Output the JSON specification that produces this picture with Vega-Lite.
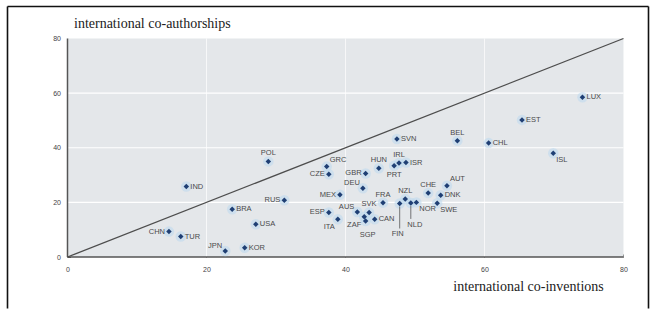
{
  "$schema": "https://vega.github.io/schema/vega-lite/v6.json",
  "width": 641,
  "height": 302,
  "autosize": {"type": "none"},
  "padding": {"left": 7, "top": 6, "right": 4, "bottom": 1},
  "background": "white",
  "config": {
    "view": {"stroke": null},
    "text": {"font": "Liberation Sans", "fontSize": 7.5, "color": "#4a4a4a"}
  },
  "datasets": {
    "pts": [
      {"c": "LUX", "x": 74.1, "y": 58.5},
      {"c": "EST", "x": 65.4, "y": 50.2},
      {"c": "BEL", "x": 56.1, "y": 42.6},
      {"c": "CHL", "x": 60.6, "y": 41.7},
      {"c": "ISL", "x": 69.9, "y": 38.0},
      {"c": "SVN", "x": 47.4, "y": 43.2},
      {"c": "POL", "x": 28.9, "y": 35.0},
      {"c": "GRC", "x": 37.3, "y": 33.1},
      {"c": "CZE", "x": 37.6, "y": 30.3},
      {"c": "HUN", "x": 44.8, "y": 32.5},
      {"c": "GBR", "x": 42.9, "y": 30.6},
      {"c": "DEU", "x": 42.5, "y": 25.2},
      {"c": "MEX", "x": 39.2, "y": 22.8},
      {"c": "RUS", "x": 31.2, "y": 20.8},
      {"c": "FRA", "x": 45.4, "y": 19.9},
      {"c": "IRL", "x": 47.7, "y": 34.4},
      {"c": "ISR", "x": 48.7, "y": 34.6},
      {"c": "PRT", "x": 47.0, "y": 33.4},
      {"c": "NZL", "x": 48.6, "y": 21.2},
      {"c": "FIN", "x": 47.8, "y": 19.6},
      {"c": "NLD", "x": 49.4, "y": 19.8},
      {"c": "NOR", "x": 50.2, "y": 20.0},
      {"c": "CHE", "x": 51.9, "y": 23.4},
      {"c": "AUT", "x": 54.6, "y": 26.1},
      {"c": "DNK", "x": 53.7, "y": 22.6},
      {"c": "SWE", "x": 53.2, "y": 19.7},
      {"c": "ESP", "x": 37.6, "y": 16.3},
      {"c": "ITA", "x": 38.9, "y": 13.8},
      {"c": "AUS", "x": 41.7, "y": 16.5},
      {"c": "SVK", "x": 43.4, "y": 16.3},
      {"c": "ZAF", "x": 42.7, "y": 14.7},
      {"c": "SGP", "x": 42.9, "y": 13.2},
      {"c": "CAN", "x": 44.2, "y": 13.8},
      {"c": "USA", "x": 27.1, "y": 12.0},
      {"c": "BRA", "x": 23.7, "y": 17.5},
      {"c": "KOR", "x": 25.5, "y": 3.4},
      {"c": "JPN", "x": 22.7, "y": 2.2},
      {"c": "CHN", "x": 14.6, "y": 9.3},
      {"c": "TUR", "x": 16.3, "y": 7.5},
      {"c": "IND", "x": 17.1, "y": 25.8}
    ],
    "grid": [{"g": 20}, {"g": 40}, {"g": 60}]
  },
  "resolve": {"axis": {"x": "independent", "y": "independent"}},
  "layer": [
    {
      "data": {"values": [{}]},
      "mark": {"type": "rect", "color": "#e4e7ea"},
      "encoding": {
        "x": {
          "datum": 0, "type": "quantitative",
          "scale": {"domain": [-8.705, 83.53], "nice": false, "zero": false},
          "axis": {
            "orient": "bottom", "offset": -51, "values": [0, 20, 40, 60, 80],
            "domain": false, "grid": false, "ticks": true, "tickSize": -3, "tickColor": "#555555",
            "labelFont": "Liberation Sans", "labelFontSize": 7, "labelColor": "#444444", "labelPadding": 11,
            "title": "international co-inventions", "titleFont": "Liberation Serif", "titleFontSize": 14,
            "titleFontWeight": "normal", "titleColor": "#222222", "titleX": 521, "titleY": 33,
            "titleAlign": "center", "titleBaseline": "alphabetic"
          }
        },
        "x2": {"datum": 80},
        "y": {
          "datum": 0, "type": "quantitative",
          "scale": {"domain": [-18.67, 91.9], "nice": false, "zero": false},
          "axis": {
            "orient": "left", "offset": -60.5, "values": [0, 20, 40, 60, 80],
            "domain": false, "grid": false, "ticks": true, "tickSize": -3, "tickColor": "#555555",
            "labelFont": "Liberation Sans", "labelFontSize": 7, "labelColor": "#444444", "labelPadding": 10,
            "title": "international co-authorships", "titleFont": "Liberation Serif", "titleFontSize": 14,
            "titleFontWeight": "normal", "titleColor": "#222222", "titleAngle": 0, "titleX": 6, "titleY": 21,
            "titleAlign": "left", "titleBaseline": "alphabetic"
          }
        },
        "y2": {"datum": 80}
      }
    },
    {
      "data": {"name": "grid"},
      "mark": {"type": "rule", "color": "#ffffff", "strokeWidth": 1.2},
      "encoding": {
        "y": {"field": "g", "type": "quantitative", "axis": null},
        "x": {"datum": 0, "type": "quantitative", "axis": null},
        "x2": {"datum": 80}
      }
    },
    {
      "data": {"name": "grid"},
      "mark": {"type": "rule", "color": "#ffffff", "strokeWidth": 1, "opacity": 0.7},
      "encoding": {
        "x": {"field": "g", "type": "quantitative", "axis": null},
        "y": {"datum": 0, "type": "quantitative", "axis": null},
        "y2": {"datum": 80}
      }
    },
    {
      "data": {"values": [{}]},
      "mark": {"type": "rule", "color": "#555555", "strokeWidth": 1.5},
      "encoding": {
        "y": {"datum": 0, "type": "quantitative", "axis": null},
        "x": {"datum": 0, "type": "quantitative", "axis": null},
        "x2": {"datum": 80}
      }
    },
    {
      "data": {"values": [{}]},
      "mark": {"type": "rule", "color": "#555555", "strokeWidth": 1.5},
      "encoding": {
        "x": {"datum": 0, "type": "quantitative", "axis": null},
        "y": {"datum": 0, "type": "quantitative", "axis": null},
        "y2": {"datum": 80}
      }
    },
    {
      "data": {"values": [{}]},
      "mark": {"type": "rule", "color": "#4d4d4d", "strokeWidth": 1.3},
      "encoding": {
        "x": {
          "datum": 0, "type": "quantitative",
          "axis": {"orient": "top", "domain": true, "domainColor": "#111111", "domainWidth": 1.6, "ticks": false, "labels": false, "grid": false, "title": null}
        },
        "y": {
          "datum": 0, "type": "quantitative",
          "axis": {"orient": "left", "offset": 0, "domain": true, "domainColor": "#111111", "domainWidth": 1.6, "ticks": false, "labels": false, "grid": false, "title": null}
        },
        "x2": {"datum": 80},
        "y2": {"datum": 80}
      }
    },
    {
      "data": {"name": "pts"},
      "mark": {"type": "point", "shape": "circle", "filled": true, "size": 110, "color": "#bcd8ef", "opacity": 0.55},
      "encoding": {
        "x": {"field": "x", "type": "quantitative", "axis": null},
        "y": {"field": "y", "type": "quantitative", "axis": null}
      }
    },
    {
      "data": {"name": "pts"},
      "transform": [{"filter": {"field": "c", "equal": "FIN"}}],
      "mark": {"type": "rule", "color": "#555555", "strokeWidth": 0.8, "yOffset": 3, "y2Offset": 25},
      "encoding": {
        "x": {"field": "x", "type": "quantitative", "axis": null},
        "y": {"field": "y", "type": "quantitative", "axis": null},
        "y2": {"field": "y"}
      }
    },
    {
      "data": {"name": "pts"},
      "transform": [{"filter": {"field": "c", "equal": "NLD"}}],
      "mark": {"type": "rule", "color": "#555555", "strokeWidth": 0.8, "yOffset": 3, "y2Offset": 16},
      "encoding": {
        "x": {"field": "x", "type": "quantitative", "axis": null},
        "y": {"field": "y", "type": "quantitative", "axis": null},
        "y2": {"field": "y"}
      }
    },
    {
      "data": {"name": "pts"},
      "mark": {"type": "point", "shape": "diamond", "filled": true, "size": 30, "color": "#1f3f74", "opacity": 1},
      "encoding": {
        "x": {"field": "x", "type": "quantitative", "axis": null},
        "y": {
          "field": "y", "type": "quantitative",
          "axis": {"orient": "right", "domain": true, "domainColor": "#111111", "domainWidth": 1.6, "ticks": false, "labels": false, "grid": false, "title": null}
        }
      }
    },
    {
      "data": {"name": "pts"},
      "transform": [{"filter": {"field": "c", "oneOf": ["LUX", "EST", "CHL", "SVN", "ISR", "DNK", "CAN", "USA", "BRA", "KOR", "TUR", "IND"]}}],
      "mark": {"type": "text", "align": "left", "baseline": "middle", "dx": 4},
      "encoding": {
        "x": {"field": "x", "type": "quantitative", "axis": null},
        "y": {"field": "y", "type": "quantitative", "axis": null},
        "text": {"field": "c"}
      }
    },
    {
      "data": {"name": "pts"},
      "transform": [{"filter": {"field": "c", "oneOf": ["CZE", "GBR", "MEX", "RUS", "ESP", "CHN"]}}],
      "mark": {"type": "text", "align": "right", "baseline": "middle", "dx": -4},
      "encoding": {
        "x": {"field": "x", "type": "quantitative", "axis": null},
        "y": {"field": "y", "type": "quantitative", "axis": null},
        "text": {"field": "c"}
      }
    },
    {
      "data": {"name": "pts"},
      "transform": [{"filter": {"field": "c", "oneOf": ["BEL", "POL", "HUN", "FRA", "IRL", "NZL", "CHE", "SVK"]}}],
      "mark": {"type": "text", "align": "center", "baseline": "middle", "dy": -8},
      "encoding": {
        "x": {"field": "x", "type": "quantitative", "axis": null},
        "y": {"field": "y", "type": "quantitative", "axis": null},
        "text": {"field": "c"}
      }
    },
    {
      "data": {"name": "pts"},
      "transform": [{"filter": {"field": "c", "equal": "PRT"}}],
      "mark": {"type": "text", "align": "center", "baseline": "middle", "dy": 9},
      "encoding": {
        "x": {"field": "x", "type": "quantitative", "axis": null},
        "y": {"field": "y", "type": "quantitative", "axis": null},
        "text": {"field": "c"}
      }
    },
    {
      "data": {"name": "pts"},
      "transform": [{"filter": {"field": "c", "equal": "SGP"}}],
      "mark": {"type": "text", "align": "center", "baseline": "middle", "dx": 2, "dy": 14},
      "encoding": {
        "x": {"field": "x", "type": "quantitative", "axis": null},
        "y": {"field": "y", "type": "quantitative", "axis": null},
        "text": {"field": "c"}
      }
    },
    {
      "data": {"name": "pts"},
      "transform": [{"filter": {"field": "c", "oneOf": ["GRC", "AUT"]}}],
      "mark": {"type": "text", "align": "left", "baseline": "middle", "dx": 3, "dy": -7},
      "encoding": {
        "x": {"field": "x", "type": "quantitative", "axis": null},
        "y": {"field": "y", "type": "quantitative", "axis": null},
        "text": {"field": "c"}
      }
    },
    {
      "data": {"name": "pts"},
      "transform": [{"filter": {"field": "c", "oneOf": ["DEU", "AUS", "JPN"]}}],
      "mark": {"type": "text", "align": "right", "baseline": "middle", "dx": -3, "dy": -5},
      "encoding": {
        "x": {"field": "x", "type": "quantitative", "axis": null},
        "y": {"field": "y", "type": "quantitative", "axis": null},
        "text": {"field": "c"}
      }
    },
    {
      "data": {"name": "pts"},
      "transform": [{"filter": {"field": "c", "oneOf": ["ISL", "NOR", "SWE"]}}],
      "mark": {"type": "text", "align": "left", "baseline": "middle", "dx": 3, "dy": 7},
      "encoding": {
        "x": {"field": "x", "type": "quantitative", "axis": null},
        "y": {"field": "y", "type": "quantitative", "axis": null},
        "text": {"field": "c"}
      }
    },
    {
      "data": {"name": "pts"},
      "transform": [{"filter": {"field": "c", "oneOf": ["ITA", "ZAF"]}}],
      "mark": {"type": "text", "align": "right", "baseline": "middle", "dx": -3, "dy": 8},
      "encoding": {
        "x": {"field": "x", "type": "quantitative", "axis": null},
        "y": {"field": "y", "type": "quantitative", "axis": null},
        "text": {"field": "c"}
      }
    },
    {
      "data": {"name": "pts"},
      "transform": [{"filter": {"field": "c", "equal": "FIN"}}],
      "mark": {"type": "text", "align": "center", "baseline": "middle", "dx": -2, "dy": 31},
      "encoding": {
        "x": {"field": "x", "type": "quantitative", "axis": null},
        "y": {"field": "y", "type": "quantitative", "axis": null},
        "text": {"field": "c"}
      }
    },
    {
      "data": {"name": "pts"},
      "transform": [{"filter": {"field": "c", "equal": "NLD"}}],
      "mark": {"type": "text", "align": "center", "baseline": "middle", "dx": 4, "dy": 22},
      "encoding": {
        "x": {"field": "x", "type": "quantitative", "axis": null},
        "y": {"field": "y", "type": "quantitative", "axis": null},
        "text": {"field": "c"}
      }
    }
  ]
}
